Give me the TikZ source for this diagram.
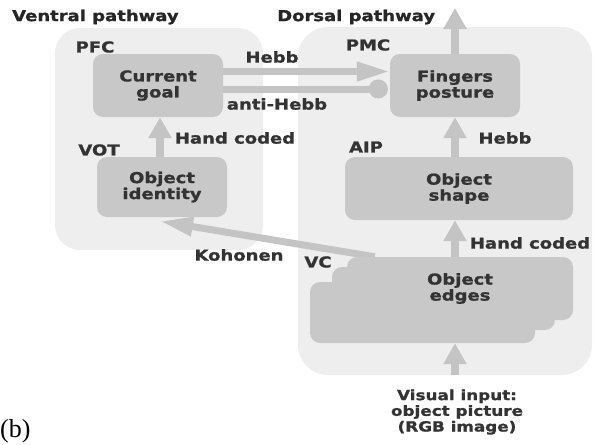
\documentclass[tikz,border=0pt]{standalone}
\usepackage{fontspec}
\setmainfont{Liberation Serif}
\newfontfamily\labf{DejaVu Sans}[FakeStretch=1.2,FakeBold=1.2]
\usetikzlibrary{arrows.meta,calc}
\definecolor{panelc}{HTML}{EEEEEE}
\definecolor{boxc}{HTML}{C8C8C8}
\definecolor{arrc}{HTML}{C4C4C4}
\definecolor{txtc}{HTML}{333333}
\pgfdeclarelayer{panel}
\pgfdeclarelayer{edges}
\pgfsetlayers{panel,edges,main}
\begin{document}
\begin{tikzpicture}[x=1pt,y=-1pt,
  lbl/.style={font=\labf\bfseries\fontsize{15}{16}\selectfont, text=txtc, inner sep=0pt},
  ttl/.style={font=\labf\bfseries\fontsize{15}{16}\selectfont, text=black!85, inner sep=0pt, anchor=west},
  boxn/.style={fill=boxc, draw=none, rounded corners=10pt, align=center, inner sep=0pt,
    font=\labf\bfseries\fontsize{15}{16}\selectfont, text=txtc},
  panel/.style={fill=panelc, draw=none, inner sep=0pt},
  varr/.style={draw=arrc, line width=8.5pt, -{Triangle[length=21pt,width=22pt]}},
  harr/.style={draw=arrc, line width=7pt, -{Triangle[length=33pt,width=18pt]}},
  inhib/.style={draw=arrc, line width=7pt, -{Circle[length=19pt,width=19pt]}},
]
\useasboundingbox (0,0) rectangle (598,445);

% panels
\begin{pgfonlayer}{panel}
\node[panel, rounded corners=25pt, minimum width=208pt, minimum height=222pt] (vent) at (159,139) {};
\node[panel, rounded corners=30pt, minimum width=294pt, minimum height=348pt] (dors) at (445,201) {};
\end{pgfonlayer}

% titles and area labels
\node[ttl] (tv) at (12,17) {Ventral pathway};
\node[ttl] (td) at (277,17) {Dorsal pathway};
\node[lbl] (pfc) at (95,47) {PFC};
\node[lbl] (vot) at (99,150) {VOT};
\node[lbl] (pmc) at (368,45) {PMC};
\node[lbl] (aip) at (366,147) {AIP};
\node[lbl] (vc) at (318,262) {VC};

% boxes
\node[boxn, minimum width=130pt, minimum height=63pt] (cg) at (158,85.5) {Current\\goal};
\node[boxn, minimum width=130pt, minimum height=60pt] (oid) at (162,187) {Object\\identity};
\node[boxn, minimum width=130pt, minimum height=63pt] (fp) at (455,85.5) {Fingers\\posture};
\node[boxn, minimum width=228pt, minimum height=63pt] (os) at (459,188.5) {Object\\shape};
\node[boxn, minimum width=225pt, minimum height=61pt] (oe3) at (422.5,312.5) {};
\node[boxn, minimum width=223pt, minimum height=63pt] (oe2) at (443.5,298.5) {};
\node[boxn, minimum width=226pt, minimum height=63pt] (oe) at (460,288.5) {Object\\edges};

% input text
\node[lbl, align=center, font=\labf\bfseries\fontsize{14}{15.7}\selectfont] (vi) at (457,412) {Visual input:\\object picture\\(RGB image)};
\node[inner sep=0pt, anchor=west, font=\fontsize{26}{28}\selectfont] (b) at (0,431) {(b)};

\coordinate (out) at (455,8);

% connectors
\begin{pgfonlayer}{edges}
\draw[varr] (oid.north -| 160,0) -- (cg.south -| 160,0);
\draw[harr] ([yshift=14pt]cg.east) -- ([yshift=14pt]fp.west);
\draw[inhib] ([yshift=-3.5pt]cg.east) -- ([xshift=-2pt,yshift=-3.5pt]fp.west);
\draw[varr] (fp.north) -- (out);
\draw[varr] (os.north -| fp.south) -- (fp.south);
\draw[varr] (oe.north -| fp.south) -- (os.south -| fp.south);
\draw[varr] (vi.north -| fp.south) ++(0,-14) -- (oe3.south -| fp.south);
\draw[harr] ([xshift=28pt]oe.north west) -- ([xshift=-2pt,yshift=-4pt]oid.south);
\end{pgfonlayer}

% connector labels
\node[lbl] (l1) at (272,57) {Hebb};
\node[lbl] (l2) at (277,104) {anti-Hebb};
\node[lbl] (l3) at (235,138) {Hand coded};
\node[lbl] (l4) at (505,138) {Hebb};
\node[lbl] (l5) at (530,243) {Hand coded};
\node[lbl] (l6) at (239,255) {Kohonen};
\end{tikzpicture}
\end{document}
